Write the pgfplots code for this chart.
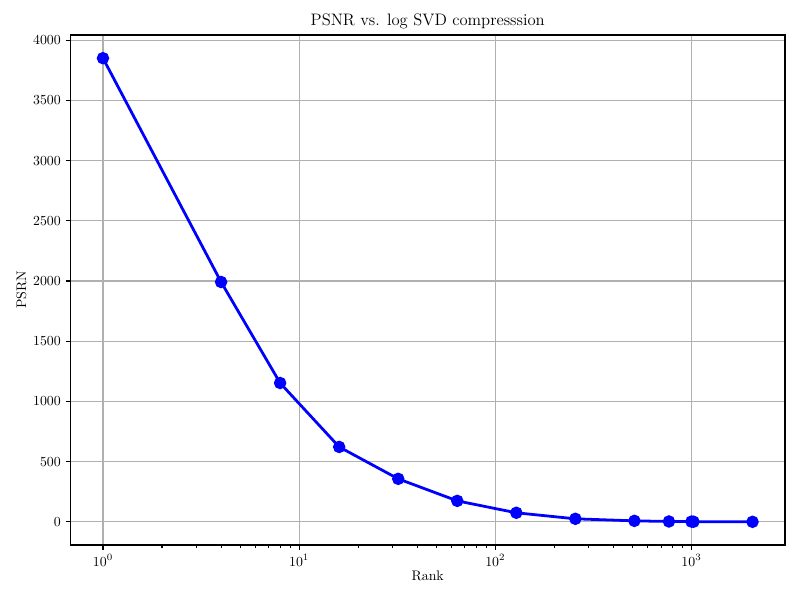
\documentclass[border=0pt]{standalone}
\usepackage{pgfplots}
\pgfplotsset{compat=1.18}
\definecolor{gridgray}{HTML}{B0B0B0}
\begin{document}
\begin{tikzpicture}
\begin{axis}[
  at={(0,0)}, anchor=south west,
  scale only axis=true,
  width=514.4bp, height=367.2bp,
  xmode=log,
  xmin=0.683, xmax=2997,
  ymin=-192.5, ymax=4043.6,
  ytick={0,500,1000,1500,2000,2500,3000,3500,4000},
  xtick={1,10,100,1000},
  scaled y ticks=false,
  yticklabel style={/pgf/number format/1000 sep={}},
  tick pos=left,
  tick align=outside,
  major tick length=3.5bp,
  minor tick length=2bp,
  every tick/.style={black, line width=0.8bp},
  axis line style={line width=0.8bp},
  grid=major,
  major grid style={gridgray, line width=0.8bp},
  tick label style={font=\fontsize{10}{12}\selectfont},
  xlabel={Rank},
  ylabel={PSRN},
  label style={font=\fontsize{10}{12}\selectfont},
  xlabel style={yshift=3pt},
  ylabel style={yshift=-2pt},
]
\addplot[blue, line width=2bp, mark=*, mark size=4bp, mark options={fill=blue, draw=blue, line width=1bp}]
coordinates {
(1,3851) (4,1992) (8,1153) (16,622) (32,357) (64,174) (128,75) (256,25) (512,8) (768,3) (1000,2) (1024,1) (2048,0)
};
\end{axis}
\node[font=\fontsize{12}{14}\selectfont, anchor=base] at (257.2bp,374.2bp) {PSNR vs. log SVD compresssion};
\pgfresetboundingbox
\path[use as bounding box] (-50.76bp,-39.6bp) rectangle (525.24bp,392.4bp);
\end{tikzpicture}
\end{document}
